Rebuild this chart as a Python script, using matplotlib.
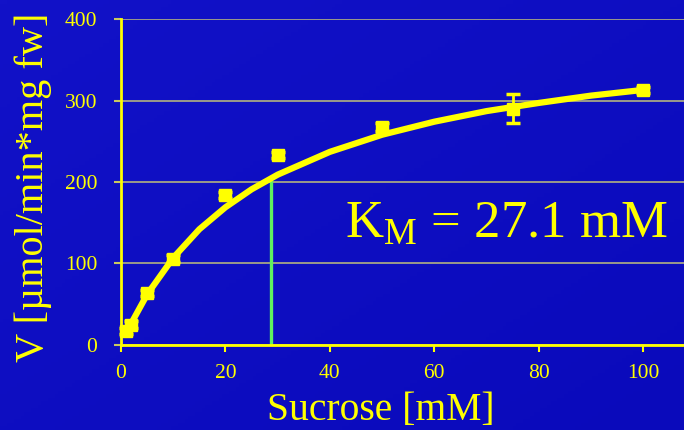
import numpy as np
import matplotlib
matplotlib.use("Agg")
import matplotlib.pyplot as plt

# -----------------------------
# Data
# -----------------------------
sucrose = [1, 2, 5, 10, 20, 30, 50, 75, 100]
velocity = [17, 25, 64, 106, 184, 233, 267, 290, 313]
velocity_err = [4, 4, 4, 4, 4, 4, 5, 18, 4]

# fitted curve
fit_x = [1, 2, 5, 10, 15, 20, 25, 30, 40, 50, 60, 70, 80, 90, 100]
fit_v = [14, 27, 62, 107, 142, 169, 191, 209, 237, 258, 274, 287, 297, 306, 313]

km_line_x = 28.7
km_line_top = 205
km_label = r"$\mathrm{K_M}$ = 27.1 mM"

x_ticks = [0, 20, 40, 60, 80, 100]
y_ticks = [0, 100, 200, 300, 400]

YELLOW = "#ffff00"
plt.rcParams["font.family"] = ["Liberation Serif", "DejaVu Serif"]
plt.rcParams["mathtext.fontset"] = "custom"
plt.rcParams["mathtext.rm"] = "Liberation Serif"

fig = plt.figure(figsize=(6.84, 4.30), dpi=100)

# blue slide background with a faint gradient
bg = fig.add_axes([0, 0, 1, 1], zorder=-10)
gx, gy = np.meshgrid(np.linspace(0, 1, 200), np.linspace(0, 1, 120))
bg.imshow(gx * 0.5 + gy * 0.5, cmap=matplotlib.colors.LinearSegmentedColormap.from_list(
    "slide", ["#1212c8", "#0a0abb"]), aspect="auto", extent=[0, 1, 0, 1], origin="upper")
bg.axis("off")

ax = fig.add_axes([0.1769, 0.1977, 0.8231, 0.7581])
ax.patch.set_alpha(0)

ax.grid(axis="y", color="#9a9a8a", linewidth=1.4, zorder=1)
ax.plot([km_line_x, km_line_x], [0, km_line_top], color="#5ff05f", linewidth=2.4, zorder=2)
ax.plot(fit_x, fit_v, color=YELLOW, linewidth=4.5, solid_capstyle="round", zorder=3)
ax.errorbar(sucrose, velocity, yerr=velocity_err, fmt="s", color=YELLOW, markersize=8.5,
            elinewidth=2, capsize=5, capthick=2.5, zorder=4, clip_on=False)

ax.set_xlim(0, 107.8)
ax.set_ylim(0, 400)
ax.set_xticks(x_ticks)
ax.set_yticks(y_ticks)

for side in ["top", "right"]:
    ax.spines[side].set_visible(False)
for side in ["left", "bottom"]:
    ax.spines[side].set_color(YELLOW)
    ax.spines[side].set_linewidth(2)

ax.tick_params(axis="x", colors=YELLOW, direction="out", length=5, width=1.5,
               labelsize=15.5, pad=9)
ax.tick_params(axis="y", colors="#c8c860", direction="out", length=5, width=1.5,
               labelsize=15.5, labelcolor=YELLOW, pad=12)

ax.set_xlabel("Sucrose [mM]", color=YELLOW, fontsize=28.5)
ax.xaxis.set_label_coords(0.462, -0.145)
ax.set_ylabel("V [µmol/min*mg fw]", color=YELLOW, fontsize=29)
ax.yaxis.set_label_coords(-0.123, 0.485)

ax.text(0.97, 0.33, km_label, transform=ax.transAxes, ha="right", va="baseline",
        color=YELLOW, fontsize=38)

fig.savefig("out.png", dpi=100, facecolor="#0a0abb")
